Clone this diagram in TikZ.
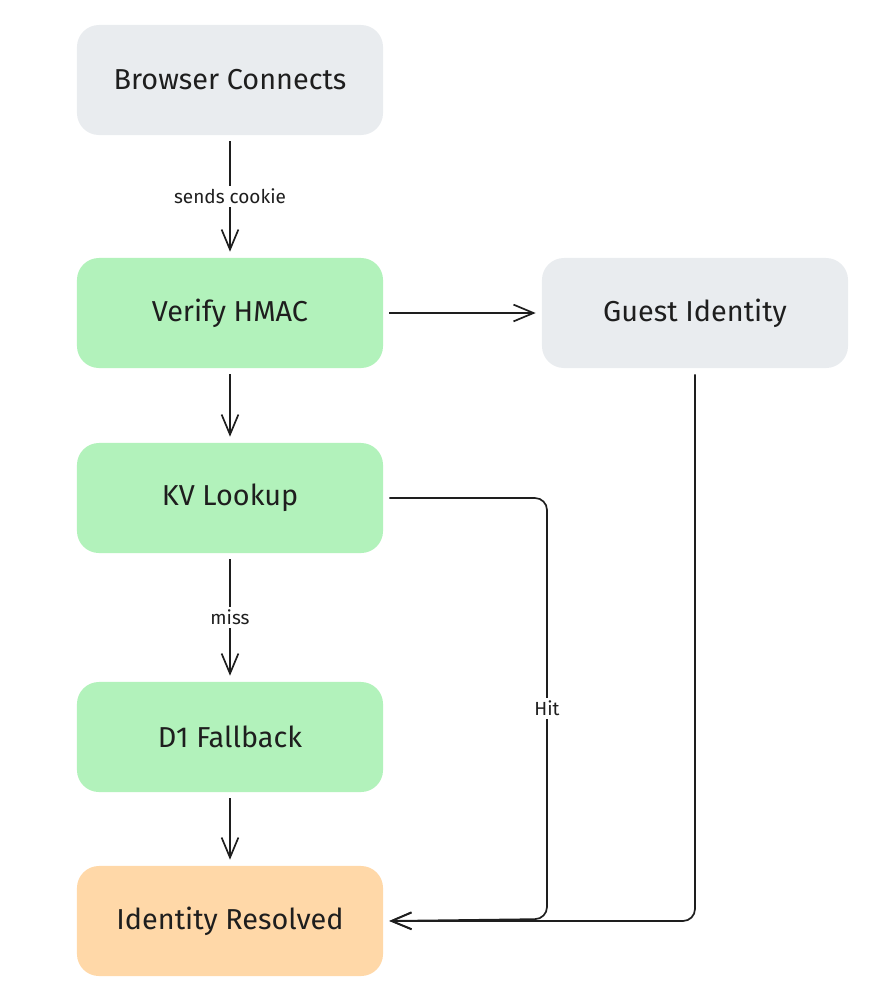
\documentclass[tikz,border=0pt]{standalone}
\usepackage{fontspec}
\setmainfont{Fira Sans}
\usepackage{tikz}
\usetikzlibrary{arrows.meta,positioning}
\definecolor{inkc}{HTML}{1E1E1E}
\definecolor{greyc}{HTML}{E9ECEF}
\definecolor{greenc}{HTML}{B2F2BB}
\definecolor{orangec}{HTML}{FFD8A8}

\tikzset{
  stepbox/.style={rectangle,rounded corners=0.55cm,minimum width=7.65cm,minimum height=2.75cm,
    text=inkc,font=\fontsize{20.5}{24}\selectfont},
  arr/.style={draw=inkc,line width=1.2pt,-{Straight Barb[length=0.5cm,width=0.42cm]},
    shorten <=0.15cm,shorten >=0.15cm},
  lbl/.style={fill=white,text=inkc,font=\fontsize{13.5}{16}\selectfont,inner sep=2pt}
}

\begin{document}
\begin{tikzpicture}[x=0.025cm,y=-0.025cm]
  \useasboundingbox (0,0) rectangle (892,996);

  \node[stepbox,fill=greyc]   (browser) at (230,80)  {Browser Connects};
  \node[stepbox,fill=greenc]  (verify)  at (230,313) {Verify HMAC};
  \node[stepbox,fill=greyc]   (guest)   at (695,313) {Guest Identity};
  \node[stepbox,fill=greenc]  (kv)      at (230,498) {KV Lookup};
  \node[stepbox,fill=greenc]  (dfall)   at (230,737) {D1 Fallback};
  \node[stepbox,fill=orangec] (resolved) at (230,921) {Identity Resolved};

  \draw[arr] (browser) -- node[lbl] {sends cookie} (verify);
  \draw[arr] (verify) -- (guest);
  \draw[arr] (verify) -- (kv);
  \draw[arr] (kv) -- node[lbl] {miss} (dfall);
  \draw[arr] (dfall) -- (resolved);

  % hit path and guest path join at the right side of the result
  \coordinate (hittop) at (547,498);
  \coordinate (hitbot) at (547,919);
  \draw[arr,rounded corners=0.3cm] (kv.east) -- (hittop) -- node[lbl] {Hit} (hitbot) -- (resolved.east);
  \draw[arr,rounded corners=0.3cm] (guest.south) |- (resolved.east);
\end{tikzpicture}
\end{document}
